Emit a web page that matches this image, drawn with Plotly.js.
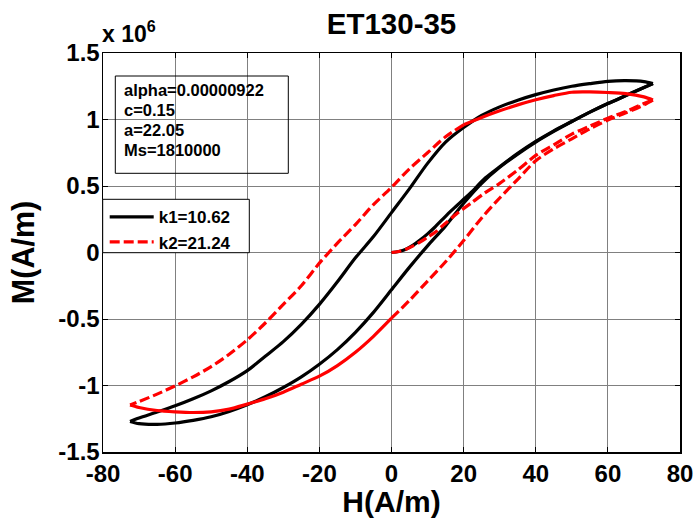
<!DOCTYPE html>
<html>
<head>
<meta charset="utf-8">
<script src="https://cdn.plot.ly/plotly-3.0.1.min.js"></script>
<style>html,body{margin:0;padding:0;background:#fff;}#chart{width:696px;height:518px;}</style>
</head>
<body>
<div id="chart"></div>
<script>
// ---- Data (H in A/m, M in units of 10^6 A/m) ----
// k1 = 10.62 (black, solid)
const k1InitH = [0, 2, 4, 6, 8, 10, 12, 14, 16, 18, 20, 22, 26, 30, 35, 40, 45, 50, 55, 60, 65, 70, 72.5];
const k1InitM = [0, 0.008, 0.025, 0.055, 0.095, 0.14, 0.19, 0.245, 0.30, 0.35, 0.40, 0.45, 0.56, 0.645, 0.745, 0.835, 0.915, 0.985, 1.055, 1.12, 1.18, 1.24, 1.27];
const k1DescH = [72.5, 70, 65, 60, 55, 50, 45, 40, 35, 30, 25, 20, 15, 10, 5, 0, -5, -10, -15, -20, -25, -30, -35, -40, -45, -50, -55, -60, -65, -70, -72.5];
const k1DescM = [1.27, 1.285, 1.292, 1.287, 1.27, 1.25, 1.222, 1.187, 1.145, 1.095, 1.03, 0.94, 0.83, 0.67, 0.48, 0.30, 0.12, -0.04, -0.22, -0.39, -0.54, -0.67, -0.78, -0.888, -0.97, -1.04, -1.10, -1.153, -1.20, -1.245, -1.27];
const k1AscH = [-72.5, -70, -65, -60, -55, -50, -45, -40, -35, -30, -25, -20, -15, -10, -5, 0, 5, 10, 15, 20, 25, 30, 35, 40, 45, 50, 55, 60, 65, 70, 72.5];
const k1AscM = [-1.27, -1.287, -1.292, -1.282, -1.262, -1.235, -1.195, -1.145, -1.085, -1.015, -0.935, -0.84, -0.73, -0.60, -0.45, -0.28, -0.11, 0.05, 0.20, 0.37, 0.52, 0.64, 0.74, 0.83, 0.91, 0.985, 1.055, 1.12, 1.18, 1.24, 1.27];

// k2 = 21.24 (red, dashed)
const k2InitH = [0, 2, 4, 6, 8, 10, 12, 15, 18, 22, 26, 30, 35, 40, 45, 50, 55, 60, 65, 70, 72.5];
const k2InitM = [0, 0.008, 0.025, 0.05, 0.08, 0.115, 0.15, 0.22, 0.29, 0.37, 0.45, 0.52, 0.62, 0.73, 0.81, 0.89, 0.95, 1.01, 1.06, 1.12, 1.146];
const k2DescH = [72.5, 70, 65, 60, 55, 50, 45, 40, 35, 30, 25, 20, 15, 10, 5, 0, -5, -10, -15, -20, -25, -30, -35, -40, -45, -50, -55, -60, -65, -70, -72.5];
const k2DescM = [1.146, 1.17, 1.195, 1.203, 1.207, 1.205, 1.18, 1.149, 1.11, 1.065, 1.015, 0.96, 0.87, 0.75, 0.63, 0.49, 0.36, 0.21, 0.07, -0.08, -0.25, -0.39, -0.53, -0.657, -0.765, -0.858, -0.935, -1.003, -1.065, -1.12, -1.146];
const k2AscH = [-72.5, -70, -65, -60, -55, -50, -45, -40, -35, -30, -25, -20, -15, -10, -5, 0, 5, 10, 15, 20, 25, 30, 35, 40, 45, 50, 55, 60, 65, 70, 72.5];
const k2AscM = [-1.146, -1.165, -1.188, -1.198, -1.203, -1.198, -1.178, -1.14, -1.10, -1.05, -0.99, -0.93, -0.85, -0.75, -0.63, -0.494, -0.36, -0.215, -0.07, 0.09, 0.26, 0.41, 0.55, 0.69, 0.78, 0.855, 0.93, 0.995, 1.05, 1.11, 1.146];

const seriesNames = ['k1=10.62', 'k2=21.24'];
const paramLines = ['alpha=0.00000922', 'c=0.15', 'a=22.05', 'Ms=1810000'];
const xTicks = [-80, -60, -40, -20, 0, 20, 40, 60, 80];
const xTickLabels = ['-80', '-60', '-40', '-20', '0', '20', '40', '60', '80'];
const yTicks = [-1.5, -1, -0.5, 0, 0.5, 1, 1.5];
const yTickLabels = ['-1.5', '-1', '-0.5', '0', '0.5', '1', '1.5'];
const chartTitle = 'ET130-35';
const xTitle = 'H(A/m)';
const yTitle = 'M(A/m)';
const yMultiplier = 'x 10<sup>6</sup>';

// ---- Helpers ----
function part(H, M, keep) {
  const h = [], m = [];
  for (let i = 0; i < H.length; i++) if (keep(H[i])) { h.push(H[i]); m.push(M[i]); }
  return {h, m};
}
const FONT = 'Arial, "Liberation Sans", Helvetica, sans-serif';
const BLACK = '#000000', RED = '#ff0000';
const LW = 3.2;
const DASH = '10px,4px';

// plot-area pixel geometry (for paper coordinates of decorations)
const PL = 103, PR = 680, PT = 53, PB = 452;
const px2x = px => (px - PL) / (PR - PL);
const py2y = py => (PB - py) / (PB - PT);

function tr(h, m, color, dash, name, showlegend, group) {
  return {
    x: h, y: m, type: 'scatter', mode: 'lines', name: name,
    legendgroup: group, showlegend: showlegend,
    line: {color: color, width: LW, dash: dash, shape: 'spline', smoothing: 0.8},
    hoverinfo: 'skip'
  };
}

const traces = [];
traces.push(tr(k1InitH, k1InitM, BLACK, 'solid', seriesNames[0], true, 'k1'));
traces.push(tr(k1DescH, k1DescM, BLACK, 'solid', seriesNames[0], false, 'k1'));
traces.push(tr(k1AscH, k1AscM, BLACK, 'solid', seriesNames[0], false, 'k1'));

traces.push(tr(k2InitH, k2InitM, RED, DASH, seriesNames[1], true, 'k2'));
let p;
p = part(k2DescH, k2DescM, h => h >= 20); traces.push(tr(p.h, p.m, RED, 'solid', seriesNames[1], false, 'k2'));
p = part(k2DescH, k2DescM, h => h <= 20); traces.push(tr(p.h, p.m, RED, DASH, seriesNames[1], false, 'k2'));
p = part(k2AscH, k2AscM, h => h <= 0); traces.push(tr(p.h, p.m, RED, 'solid', seriesNames[1], false, 'k2'));
p = part(k2AscH, k2AscM, h => h >= 0); traces.push(tr(p.h, p.m, RED, DASH, seriesNames[1], false, 'k2'));

const axisCommon = {
  ticks: 'inside', ticklen: 5, tickwidth: 1, tickcolor: '#000',
  showline: true, linecolor: '#000', linewidth: 1.5, mirror: 'ticks',
  showgrid: true, gridcolor: '#808080', gridwidth: 1, zeroline: false,
  tickfont: {family: FONT, size: 24, color: '#000', weight: 'bold'},
  fixedrange: true
};

const paramAnnotations = paramLines.map((t, i) => ({
  text: t, xref: 'paper', yref: 'paper',
  x: px2x(122), y: py2y(90 + 20 * i), xanchor: 'left', yanchor: 'middle', align: 'left',
  showarrow: false, font: {family: FONT, size: 16.5, color: '#000', weight: 'bold'}
}));

const layout = {
  width: 696, height: 518,
  margin: {l: PL, r: 696 - PR, t: PT, b: 518 - PB, pad: 0},
  paper_bgcolor: '#fff', plot_bgcolor: '#fff',
  font: {family: FONT, color: '#000'},
  title: {text: chartTitle, x: 0.5, xref: 'paper', xanchor: 'center', y: 0.955, yref: 'container', yanchor: 'middle',
          font: {family: FONT, size: 29.5, color: '#000', weight: 'bold'}},
  xaxis: Object.assign({}, axisCommon, {
    range: [-80, 80], tickvals: xTicks, ticktext: xTickLabels,
    title: {text: xTitle, font: {family: FONT, size: 30, color: '#000', weight: 'bold'}, standoff: 1}
  }),
  yaxis: Object.assign({}, axisCommon, {
    range: [-1.5, 1.5], tickvals: yTicks, ticktext: yTickLabels, ticklabelstandoff: -3,
    title: {text: yTitle, font: {family: FONT, size: 30.5, color: '#000', weight: 'bold'}, standoff: 14}
  }),
  showlegend: true,
  legend: {
    x: px2x(104.7), y: py2y(199.3), xanchor: 'left', yanchor: 'top',
    bgcolor: 'rgba(0,0,0,0)', borderwidth: 0,
    font: {family: FONT, size: 17, color: '#000', weight: 'bold'},
    itemwidth: 44, tracegroupgap: 0, traceorder: 'normal'
  },
  shapes: [
    { // parameter text box (transparent)
      type: 'rect', xref: 'paper', yref: 'paper',
      x0: px2x(115.3), x1: px2x(288.3), y0: py2y(173.3), y1: py2y(76),
      line: {color: '#000', width: 1}, fillcolor: 'rgba(0,0,0,0)', layer: 'above'
    },
    { // legend box (opaque)
      type: 'rect', xref: 'paper', yref: 'paper',
      x0: px2x(102.7), x1: px2x(249.3), y0: py2y(252.7), y1: py2y(199.3),
      line: {color: '#000', width: 1}, fillcolor: '#ffffff', layer: 'above'
    }
  ],
  annotations: paramAnnotations.concat([
    {text: yMultiplier, xref: 'paper', yref: 'paper', x: px2x(100), y: py2y(49),
     xanchor: 'left', yanchor: 'bottom', showarrow: false,
     font: {family: FONT, size: 23, color: '#000', weight: 'bold'}}
  ])
};

Plotly.newPlot('chart', traces, layout, {displayModeBar: false, staticPlot: true});
</script>
</body>
</html>
